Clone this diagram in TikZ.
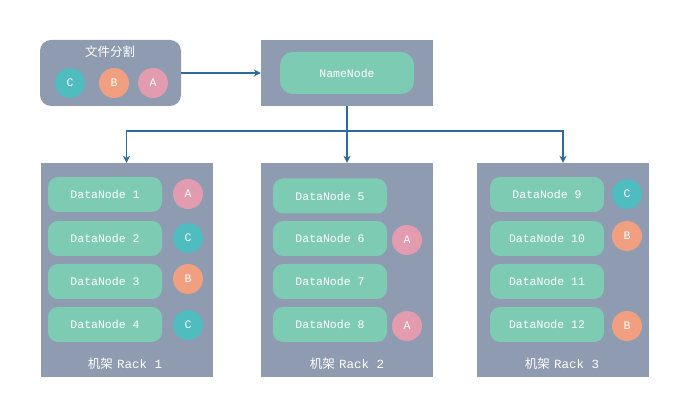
\documentclass[tikz,border=0pt]{standalone}
\usepackage{fontspec}
\setmonofont{Liberation Mono}
\newfontfamily\cjk{Noto Sans CJK SC}
\usetikzlibrary{arrows.meta}
\definecolor{rackgray}{HTML}{8E9BB0}
\definecolor{dngreen}{HTML}{7ECBB4}
\definecolor{cteal}{HTML}{4FBCBF}
\definecolor{bsalmon}{HTML}{F0A080}
\definecolor{apink}{HTML}{E39BAF}
\definecolor{linkblue}{HTML}{2E6A9A}
\tikzset{
  rackbox/.style={fill=rackgray, draw=none, minimum width=172pt, minimum height=214pt, inner sep=0pt},
  dnbox/.style={fill=dngreen, draw=none, rounded corners=10pt, minimum width=114pt, minimum height=35pt, inner sep=0pt, text=white, font=\ttfamily\fontsize{11.5}{13}\selectfont},
  blk/.style={circle, draw=none, minimum size=30pt, inner sep=0pt, text=white, font=\ttfamily\fontsize{11.5}{13}\selectfont},
  blkA/.style={blk, fill=apink},
  blkB/.style={blk, fill=bsalmon},
  blkC/.style={blk, fill=cteal},
  racklabel/.style={text=white, inner sep=0pt, font=\fontsize{12.5}{14}\selectfont},
  link/.style={draw=linkblue, line width=1.2pt, -{Stealth[length=7pt,width=7pt]}},
}
\begin{document}
\begin{tikzpicture}[x=1pt,y=-1pt]
\useasboundingbox[fill=white] (0,0) rectangle (686,414);
% file split box
\node[fill=rackgray, rounded corners=11pt, minimum width=141pt, minimum height=66pt, inner sep=0pt] (file) at (110.5,73) {};
\node[racklabel] (filetitle) at (110,52) {\cjk 文件分割};
\node[blkC] (fc) at (70,83) {C};
\node[blkB] (fb) at (114,83) {B};
\node[blkA] (fa) at (153,83) {A};
% namenode
\node[rackbox, minimum height=66pt] (nnbox) at (347,73) {};
\node[dnbox, minimum width=134pt, minimum height=42pt, rounded corners=13pt] (nn) at (347,73) {NameNode};
% racks
\node[rackbox] (rack1) at (126.5,270) {};
\node[rackbox] (rack2) at (347,270) {};
\node[rackbox] (rack3) at (563,270) {};
\node[racklabel] (r1l) at (125,364) {{\cjk 机架} \texttt{Rack 1}};
\node[racklabel] (r2l) at (347,364) {{\cjk 机架} \texttt{Rack 2}};
\node[racklabel] (r3l) at (562,364) {{\cjk 机架} \texttt{Rack 3}};
% rack 1
\node[dnbox] (dn1) at (105,194.5) {DataNode 1};
\node[dnbox] (dn2) at (105,238.5) {DataNode 2};
\node[dnbox] (dn3) at (105,281.5) {DataNode 3};
\node[dnbox] (dn4) at (105,324.5) {DataNode 4};
\node[blkA] (r1a) at (188,194) {A};
\node[blkC] (r1c) at (188,238) {C};
\node[blkB] (r1b) at (188,279) {B};
\node[blkC] (r1c2) at (188,325) {C};
% rack 2
\node[dnbox] (dn5) at (330,196) {DataNode 5};
\node[dnbox] (dn6) at (330,238.5) {DataNode 6};
\node[dnbox] (dn7) at (330,281.5) {DataNode 7};
\node[dnbox] (dn8) at (330,324.5) {DataNode 8};
\node[blkA] (r2a) at (407,240) {A};
\node[blkA] (r2a2) at (407,326) {A};
% rack 3
\node[dnbox] (dn9) at (547,194.5) {DataNode 9};
\node[dnbox] (dn10) at (547,238.5) {DataNode 10};
\node[dnbox] (dn11) at (547,281.5) {DataNode 11};
\node[dnbox] (dn12) at (547,324.5) {DataNode 12};
\node[blkC] (r3c) at (627,194) {C};
\node[blkB] (r3b) at (627,236) {B};
\node[blkB] (r3b2) at (627,326) {B};
% connectors
\draw[link] (file.east) -- (nnbox.west);
\coordinate (split) at (347,131);
\draw[link] (nnbox.south) -- (rack2.north);
\draw[link] (split) -| (rack1.north);
\draw[link] (split) -| (rack3.north);
\end{tikzpicture}
\end{document}
